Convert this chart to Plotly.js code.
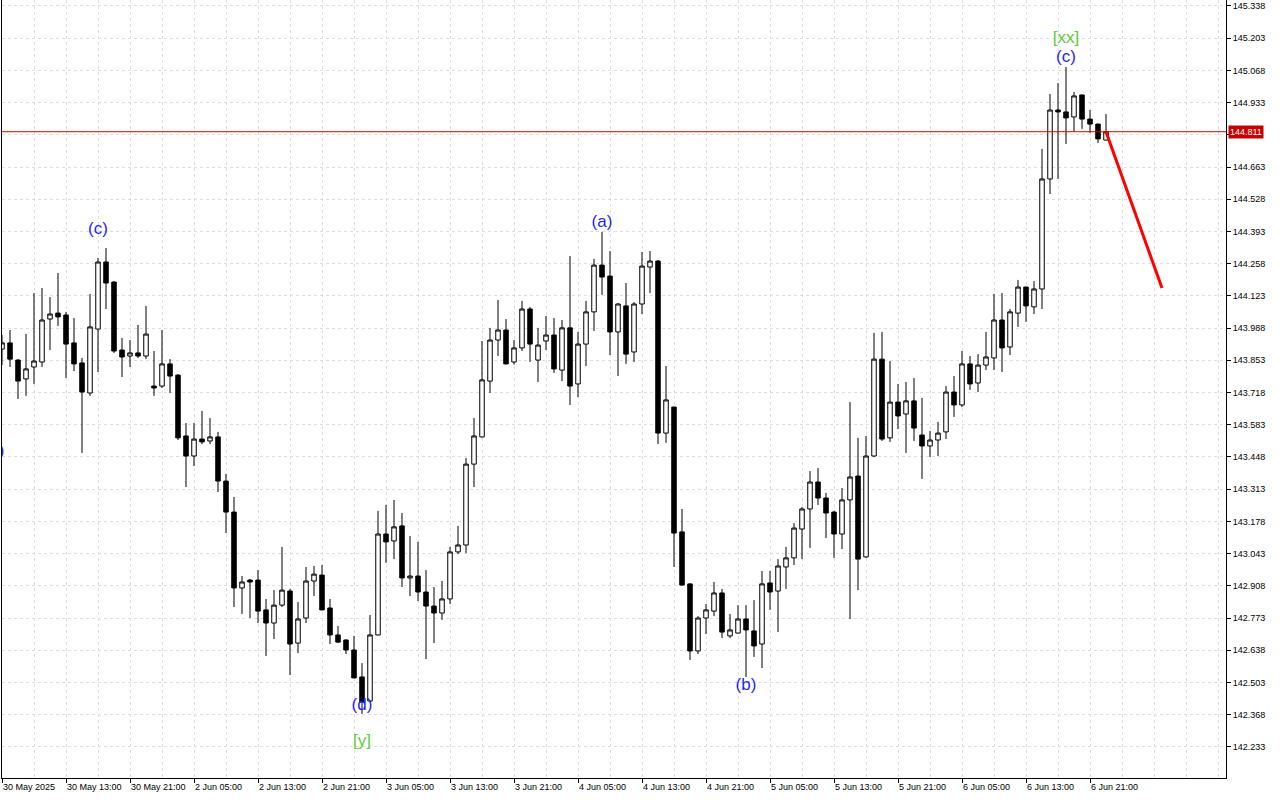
<!DOCTYPE html>
<html><head><meta charset="utf-8">
<script src="https://cdn.plot.ly/plotly-3.0.1.min.js"></script>
<style>html,body{margin:0;padding:0;background:#fff;}#chart{width:1280px;height:800px;}</style>
</head><body><div id="chart"></div>
<script>
// H1 candles, 30 May 05:00 .. 6 Jun 23:00 (bar index 0..138)
const opens=[143.900,143.926,143.854,143.775,143.825,143.846,144.026,144.051,144.043,143.926,
143.842,143.716,143.984,144.265,144.181,143.896,143.871,143.884,143.871,143.745,
143.745,143.838,143.791,143.536,143.452,143.523,143.515,143.532,143.347,143.217,
142.899,142.932,142.932,142.807,142.752,142.827,142.886,142.668,142.773,142.928,
142.953,142.815,142.702,142.681,142.639,142.526,142.425,142.702,143.125,143.096,
143.159,142.941,142.949,142.882,142.823,142.794,142.853,143.050,143.079,143.418,
143.532,143.766,143.938,143.980,143.846,143.905,144.068,143.854,143.934,143.959,
143.812,143.989,143.754,143.921,144.056,144.252,144.206,143.972,144.081,143.888,
144.089,144.244,144.269,143.548,143.657,143.134,142.916,142.635,142.773,142.802,
142.878,142.698,142.710,142.769,142.719,142.664,142.920,142.886,142.987,143.025,
143.146,143.230,143.343,143.276,143.217,143.125,143.268,143.368,143.029,143.452,
143.858,143.528,143.678,143.628,143.683,143.540,143.494,143.519,143.553,143.720,
143.666,143.838,143.758,143.833,143.863,144.022,143.909,144.051,144.160,144.077,
144.152,144.613,144.902,144.894,144.873,144.965,144.864,144.843,144.776];
const highs=[143.959,143.980,143.858,143.963,144.135,144.156,144.118,144.219,144.056,144.030,
143.863,144.131,144.282,144.324,144.185,143.947,143.938,144.001,144.081,143.892,
143.980,143.858,143.796,143.590,143.590,143.641,143.611,143.553,143.377,143.280,
142.949,142.937,142.974,142.853,142.890,143.071,142.895,142.840,142.987,142.991,
142.995,142.853,142.740,142.683,142.698,142.584,142.786,143.222,143.247,143.268,
143.213,143.117,143.092,142.974,142.903,142.928,143.071,143.159,143.444,143.611,
143.934,143.989,144.106,144.026,143.938,144.102,144.077,143.989,144.039,144.030,
144.022,144.290,143.972,144.102,144.278,144.391,144.311,144.093,144.177,144.097,
144.307,144.311,144.273,143.829,143.659,143.230,142.917,142.781,142.832,142.924,
142.895,142.790,142.827,142.827,142.848,142.970,142.970,143.020,143.071,143.171,
143.238,143.389,143.402,143.297,143.222,143.318,143.678,143.528,143.536,143.968,
143.972,143.850,143.754,143.762,143.779,143.695,143.557,143.595,143.745,143.787,
143.892,143.871,143.879,143.972,144.131,144.135,144.068,144.190,144.162,144.185,
144.739,144.969,145.015,145.082,144.978,144.967,144.902,144.845,144.885];
const lows=[143.833,143.825,143.691,143.704,143.754,143.825,143.896,143.997,143.779,143.808,
143.465,143.704,143.804,144.068,143.884,143.783,143.825,143.863,143.858,143.704,
143.737,143.716,143.519,143.322,143.410,143.502,143.502,143.301,143.129,142.819,
142.790,142.773,142.752,142.614,142.685,142.819,142.534,142.626,142.752,142.865,
142.805,142.664,142.668,142.622,142.520,142.371,142.423,142.700,143.004,143.020,
142.903,142.865,142.844,142.601,142.668,142.765,142.832,143.041,143.045,143.322,
143.530,143.716,143.871,143.836,143.835,143.892,143.846,143.762,143.896,143.800,
143.766,143.666,143.699,143.829,143.976,144.127,143.875,143.787,143.838,143.846,
144.047,144.135,143.502,143.507,142.987,142.909,142.597,142.622,142.706,142.781,
142.689,142.689,142.708,142.526,142.610,142.563,142.807,142.714,142.895,142.995,
143.020,143.067,143.247,143.108,143.025,143.062,142.769,142.890,143.025,143.448,
143.515,143.511,143.565,143.465,143.515,143.356,143.448,143.452,143.523,143.616,
143.657,143.729,143.720,143.812,143.812,143.804,143.875,143.993,144.014,144.047,
144.068,144.550,144.613,144.760,144.810,144.823,144.806,144.764,144.775];
const closes=[143.926,143.858,143.766,143.817,143.850,144.022,144.047,144.035,143.921,143.838,
143.720,143.993,144.265,144.177,143.892,143.867,143.884,143.871,143.963,143.737,
143.838,143.787,143.528,143.452,143.523,143.511,143.532,143.347,143.217,142.899,
142.924,142.924,142.802,142.752,142.827,142.890,142.664,142.769,142.928,142.957,
142.807,142.702,142.672,142.639,142.522,142.421,142.702,143.125,143.092,143.155,
142.941,142.949,142.882,142.823,142.794,142.853,143.050,143.079,143.418,143.536,
143.771,143.938,143.980,143.838,143.905,144.068,143.921,143.917,143.959,143.817,
143.989,143.745,143.921,144.056,144.252,144.202,143.972,144.089,143.879,144.089,
144.248,144.269,143.548,143.687,143.129,142.911,142.635,142.773,142.807,142.878,
142.714,142.723,142.769,142.723,142.656,142.916,142.882,142.991,143.025,143.150,
143.230,143.343,143.276,143.213,143.125,143.268,143.364,143.020,143.452,143.858,
143.523,143.678,143.620,143.683,143.569,143.494,143.519,143.548,143.720,143.666,
143.838,143.754,143.833,143.867,144.022,143.905,144.056,144.160,144.081,144.152,
144.613,144.902,144.894,144.869,144.961,144.864,144.843,144.781,144.811];

const tickBars=[0,8,16,24,32,40,48,56,64,72,80,88,96,104,112,120,128,136];
const tickLabels=["30 May 2025","30 May 13:00","30 May 21:00","2 Jun 05:00","2 Jun 13:00","2 Jun 21:00",
"3 Jun 05:00","3 Jun 13:00","3 Jun 21:00","4 Jun 05:00","4 Jun 13:00","4 Jun 21:00",
"5 Jun 05:00","5 Jun 13:00","5 Jun 21:00","6 Jun 05:00","6 Jun 13:00","6 Jun 21:00"];
const priceTicks=[145.338,145.203,145.068,144.933,144.798,144.663,144.528,144.393,144.258,144.123,
143.988,143.853,143.718,143.583,143.448,143.313,143.178,143.043,142.908,142.773,142.638,142.503,142.368,142.233];
const lastPrice=144.811;

const waveLabels=["(c)","(d)","[y]","(a)","(b)","(c)","[xx]","(e)"];
const waveBars=[12,45,45,75,93,133,133,-1.0];
const wavePrices=[144.399,142.404,142.253,144.429,142.488,145.120,145.200,143.469];
const waveKinds=["minor","minor","major","minor","minor","minor","major","minor"];

const projBars=[138,145];
const projPrices=[144.811,144.156];

const BLUE="#1f1fff", GREEN="#62c93a";
const bars=opens.map((_,i)=>i);

const traces=[
 {type:"candlestick",x:bars,open:opens,high:highs,low:lows,close:closes,
  increasing:{line:{color:"#000",width:1},fillcolor:"#ffffff"},
  decreasing:{line:{color:"#000",width:1},fillcolor:"#000000"},
  whiskerwidth:0,hoverinfo:"skip"},
 {type:"scatter",mode:"lines",x:projBars,y:projPrices,line:{color:"#ff0000",width:3},hoverinfo:"skip"},
 {type:"scatter",mode:"text",x:waveBars,y:wavePrices,text:waveLabels,cliponaxis:true,
  textposition:"middle center",
  textfont:{family:"Liberation Sans, Arial, sans-serif",size:17,color:waveKinds.map(k=>k==="major"?GREEN:BLUE)},
  hoverinfo:"skip"}
];

const gridColor="#dedede";
const axisFont={family:"Liberation Sans, Arial, sans-serif",size:9,color:"#000"};
const layout={
 width:1280,height:800,margin:{l:2,r:54,t:0,b:22},
 paper_bgcolor:"#fff",plot_bgcolor:"#fff",showlegend:false,
 boxgap:0.25,boxgroupgap:0.25,
 xaxis:{range:[0,153],tickmode:"array",tickvals:tickBars,ticktext:tickLabels,tickangle:0,
  ticklabelposition:"outside right",ticks:"outside",ticklen:4,tickcolor:"#000",
  showgrid:true,gridcolor:gridColor,griddash:"dot",gridwidth:1,
  minor:{tickmode:"linear",tick0:0,dtick:4,showgrid:true,gridcolor:gridColor,griddash:"dot",ticks:""},
  showline:true,linecolor:"#000",linewidth:1,mirror:true,zeroline:false,
  rangeslider:{visible:false},tickfont:axisFont,fixedrange:true},
 yaxis:{range:[142.1025,145.3631],side:"right",tickmode:"array",tickvals:priceTicks,
  ticktext:priceTicks.map(v=>Math.abs(v-144.798)<1e-6?"":v.toFixed(3)),
  ticks:"outside",ticklen:4,tickcolor:"#000",
  showgrid:true,gridcolor:gridColor,griddash:"dot",gridwidth:1,
  showline:true,linecolor:"#000",linewidth:1,mirror:true,zeroline:false,
  tickfont:axisFont,fixedrange:true},
 shapes:[{type:"line",xref:"paper",x0:0,x1:1,yref:"y",y0:lastPrice,y1:lastPrice,
  line:{color:"#dd0000",width:1}}],
 annotations:[{xref:"paper",x:1,xanchor:"left",xshift:2,yref:"y",y:lastPrice,yanchor:"middle",
  text:lastPrice.toFixed(3),showarrow:false,bgcolor:"#c80000",borderpad:1,
  font:{family:"Liberation Sans, Arial, sans-serif",size:9,color:"#ffffff"}}]
};
Plotly.newPlot("chart",traces,layout,{staticPlot:true,displayModeBar:false});
</script></body></html>
